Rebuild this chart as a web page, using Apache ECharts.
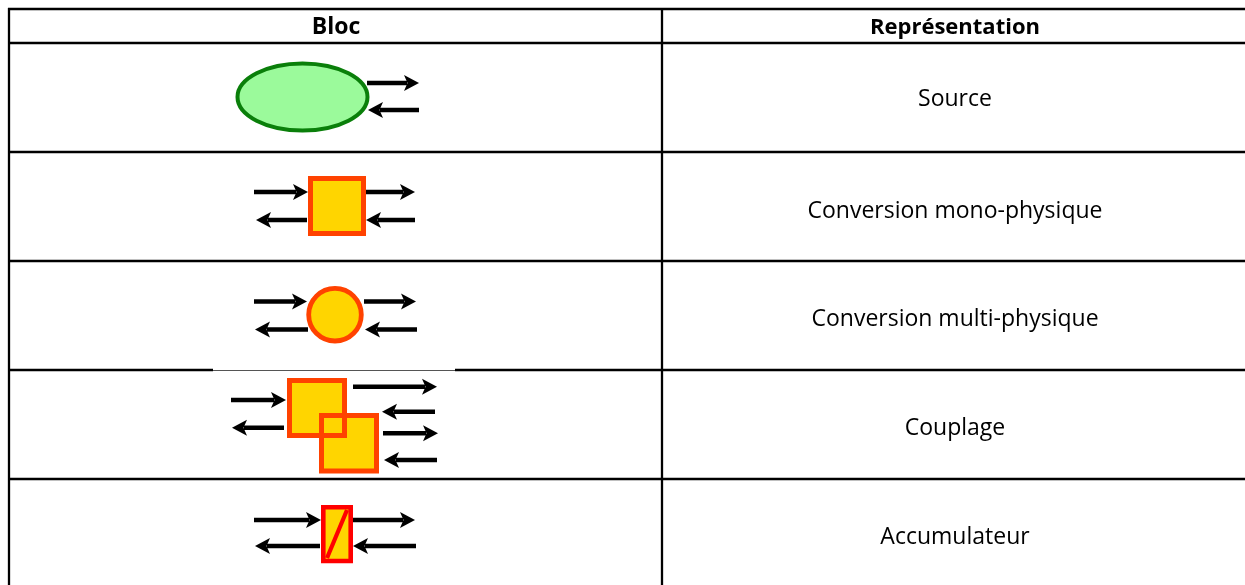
<!DOCTYPE html>
<html>
<head>
<meta charset="utf-8">
<script src="https://cdn.jsdelivr.net/npm/echarts@6/dist/echarts.min.js"></script>
<style>
html,body{margin:0;padding:0;background:#fff;}
#chart{width:1245px;height:585px;}
</style>
</head>
<body>
<div id="chart"></div>
<script>
// ---- Data ----
const headers = ['Bloc', 'Représentation'];
const blocTypes = ['source', 'mono', 'multi', 'couplage', 'accumulateur'];
const representations = ['Source', 'Conversion mono-physique', 'Conversion multi-physique', 'Couplage', 'Accumulateur'];

// ---- Layout (pixel space of a 1245 x 585 hidden cartesian grid) ----
const W = 1245, H = 585;
const LEFT = 9, DIVIDER = 662, TOP = 9, HEADER_BOTTOM = 43;
const ROW_EDGES = [43, 152, 261, 370, 479, 588];
const TEXT_DY = [2, 5, 4, 4, 4];
const COL1_CX = 335, COL2_CX = 955;
const FONT = '"Open Sans", "Noto Sans", sans-serif';
const FS = 23;
const LINE_W = 2.3;

const GOLD = '#ffd500', ORANGE = '#ff4200', RED = '#ff0000';
const GREEN_FILL = '#9bfa9b', GREEN_STROKE = '#0a7f0a';

function seg(api, x1, y1, x2, y2, w, c) {
  const a = api.coord([x1, y1]), b = api.coord([x2, y2]);
  return {type: 'line', shape: {x1: a[0], y1: a[1], x2: b[0], y2: b[1]}, style: {stroke: c || '#000', lineWidth: w}};
}
function arrow(api, x1, x2, y) {
  const a = api.coord([x1, y]), b = api.coord([x2, y]);
  const dir = Math.sign(b[0] - a[0]);
  const hl = 14, hw = 8;
  const baseX = b[0] - dir * hl;
  return [
    {type: 'line', shape: {x1: a[0], y1: a[1], x2: baseX + dir * 2, y2: a[1]}, style: {stroke: '#000', lineWidth: 4.6}},
    {type: 'polygon', shape: {points: [[b[0], b[1]], [baseX - dir * 1, b[1] - hw], [baseX + dir * 2.5, b[1]], [baseX - dir * 1, b[1] + hw]]}, style: {fill: '#000'}}
  ];
}
function rect(api, x1, y1, x2, y2, fill, stroke, lw) {
  const a = api.coord([x1, y1]), b = api.coord([x2, y2]);
  return {type: 'rect', shape: {x: a[0], y: a[1], width: b[0] - a[0], height: b[1] - a[1]},
    style: {fill: fill, stroke: stroke, lineWidth: lw}};
}

function glyph(api, type, cy) {
  const els = [];
  const cx = COL1_CX;
  if (type === 'source') {
    const c = api.coord([cx - 32.5, cy - 0.5]);
    els.push({type: 'ellipse', shape: {cx: c[0], cy: c[1], rx: 65, ry: 33.5},
      style: {fill: GREEN_FILL, stroke: GREEN_STROKE, lineWidth: 4}});
    els.push(...arrow(api, cx + 32, cx + 84, cy - 14.5));
    els.push(...arrow(api, cx + 84, cx + 33, cy + 12.5));
  } else if (type === 'mono') {
    els.push(...arrow(api, cx - 81, cx - 27, cy - 14.5));
    els.push(...arrow(api, cx + 28, cx + 80, cy - 14.5));
    els.push(...arrow(api, cx - 28, cx - 79, cy + 13.5));
    els.push(...arrow(api, cx + 80, cx + 31, cy + 13.5));
    els.push(rect(api, cx - 24.5, cy - 28, cx + 28.5, cy + 27, GOLD, ORANGE, 5));
  } else if (type === 'multi') {
    els.push(...arrow(api, cx - 81, cx - 28, cy - 14));
    els.push(...arrow(api, cx + 29, cx + 81, cy - 14));
    els.push(...arrow(api, cx - 27, cx - 80, cy + 14));
    els.push(...arrow(api, cx + 82, cx + 30, cy + 14));
    const c = api.coord([cx, cy - 0.8]);
    els.push({type: 'circle', shape: {cx: c[0], cy: c[1], r: 26.3},
      style: {fill: GOLD, stroke: ORANGE, lineWidth: 4.8}});
  } else if (type === 'couplage') {
    els.push(...arrow(api, cx - 104, cx - 49, cy - 24.5));
    els.push(...arrow(api, cx - 51, cx - 103, cy + 3.2));
    els.push(...arrow(api, cx + 18, cx + 102, cy - 37.8));
    els.push(...arrow(api, cx + 100, cx + 47, cy - 12.8));
    els.push(...arrow(api, cx + 48, cx + 103, cy + 8.8));
    els.push(...arrow(api, cx + 102, cx + 49, cy + 35.5));
    els.push(rect(api, cx - 45.5, cy - 44, cx + 9.5, cy + 11, GOLD, null, 0));
    els.push(rect(api, cx - 13.5, cy - 9, cx + 41.5, cy + 46.5, GOLD, null, 0));
    els.push(rect(api, cx - 45.5, cy - 44, cx + 9.5, cy + 11, null, ORANGE, 5));
    els.push(rect(api, cx - 13.5, cy - 9, cx + 41.5, cy + 46.5, null, ORANGE, 5));
  } else if (type === 'accumulateur') {
    els.push(...arrow(api, cx - 81, cx - 14, cy - 13.5));
    els.push(...arrow(api, cx + 16, cx + 80, cy - 13.5));
    els.push(...arrow(api, cx - 15, cx - 80, cy + 12.5));
    els.push(...arrow(api, cx + 81, cx + 18, cy + 12.5));
    els.push(rect(api, cx - 11.7, cy - 26.2, cx + 15.7, cy + 27.5, GOLD, RED, 4.6));
    els.push(seg(api, cx - 8, cy + 24.5, cx + 12, cy - 23.5, 4.2, RED));
  }
  return els;
}

const chart = echarts.init(document.getElementById('chart'), null, {renderer: 'canvas'});

const option = {
  animation: false,
  backgroundColor: '#ffffff',
  grid: {left: 0, right: 0, top: 0, bottom: 0},
  xAxis: {type: 'value', min: 0, max: W, show: false},
  yAxis: {type: 'value', min: 0, max: H, inverse: true, show: false},
  series: [
    {
      type: 'custom',
      name: 'rows',
      silent: true,
      data: representations.map((r, i) => [i]),
      renderItem: function (params, api) {
        const i = api.value(0);
        const top = ROW_EDGES[i];
        const bottom = ROW_EDGES[i + 1];
        const cy = (top + bottom) / 2;
        const children = glyph(api, blocTypes[i], cy);
        const t = api.coord([COL2_CX, cy + TEXT_DY[i]]);
        children.push({type: 'text', x: t[0], y: t[1],
          style: {text: representations[i], fill: '#000', font: FS + 'px ' + FONT, align: 'center', verticalAlign: 'middle'}});
        return {type: 'group', children: children};
      }
    },
    {
      type: 'custom',
      name: 'table',
      silent: true,
      z: 5,
      data: [[0]],
      renderItem: function (params, api) {
        const ch = [];
        ch.push(seg(api, LEFT - 1, TOP, W, TOP, LINE_W));
        ch.push(seg(api, LEFT - 1, HEADER_BOTTOM, W, HEADER_BOTTOM, LINE_W));
        for (let k = 1; k < ROW_EDGES.length - 1; k++) {
          const y = ROW_EDGES[k];
          if (blocTypes[k] === 'couplage') {
            ch.push(seg(api, LEFT - 1, y, 213, y, LINE_W));
            ch.push(seg(api, 213, y + 0.5, 455, y + 0.5, 1, '#555'));
            ch.push(seg(api, 455, y, W, y, LINE_W));
          } else {
            ch.push(seg(api, LEFT - 1, y, W, y, LINE_W));
          }
        }
        ch.push(seg(api, LEFT, TOP - 1, LEFT, H, LINE_W));
        ch.push(seg(api, DIVIDER, TOP - 1, DIVIDER, H, LINE_W));
        const hy = (TOP + HEADER_BOTTOM) / 2 + 1.5;
        const h1 = api.coord([COL1_CX + 1, hy]), h2 = api.coord([COL2_CX, hy]);
        ch.push({type: 'text', x: h1[0], y: h1[1], style: {text: headers[0], fill: '#000', font: 'bold ' + FS + 'px ' + FONT, align: 'center', verticalAlign: 'middle'}});
        ch.push({type: 'text', x: h2[0], y: h2[1], style: {text: headers[1], fill: '#000', font: 'bold 22px ' + FONT, align: 'center', verticalAlign: 'middle'}});
        return {type: 'group', children: ch};
      }
    }
  ]
};
chart.setOption(option);
</script>
</body>
</html>
